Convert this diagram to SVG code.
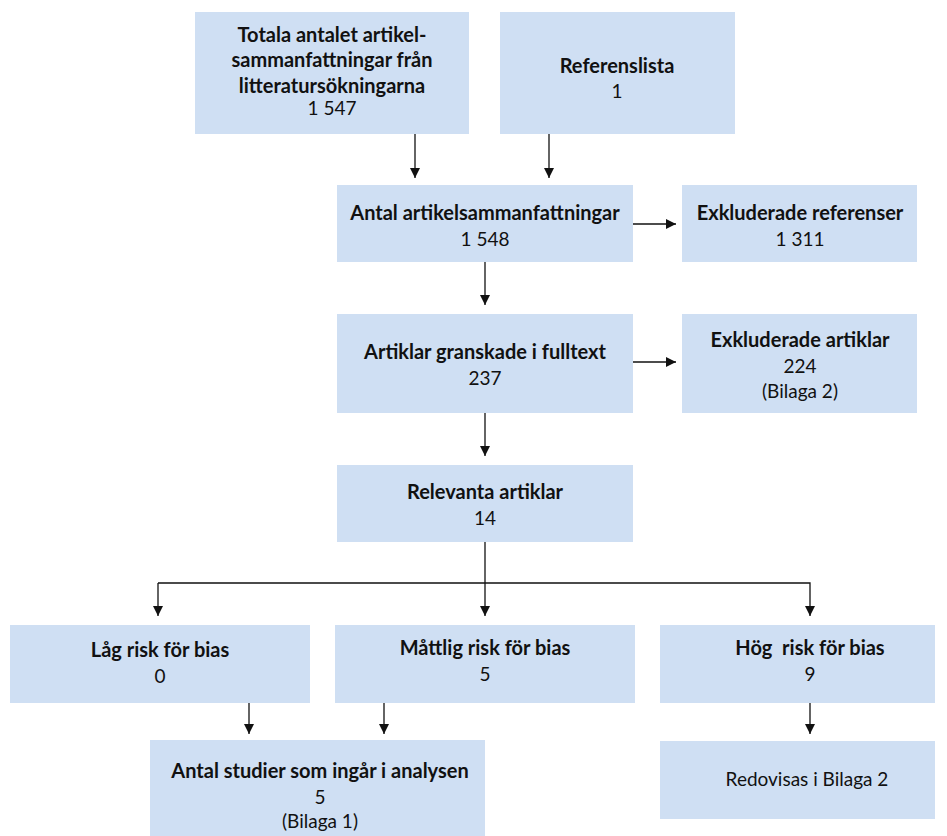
<svg xmlns="http://www.w3.org/2000/svg" width="947" height="836" viewBox="0 0 947 836">
<style>
.box{fill:#cfdff3}
.t{font-family:Lato,"Open Sans","Liberation Sans",sans-serif;font-size:20px;font-weight:bold;fill:#111;text-anchor:middle}
.n{font-family:Lato,"Open Sans","Liberation Sans",sans-serif;font-size:19px;font-weight:normal;fill:#111;text-anchor:middle}
.c{stroke:#111;stroke-width:1.3;fill:none}
</style>
<defs>
<marker id="ah" viewBox="0 0 10 10" refX="10" refY="5" markerWidth="10" markerHeight="10" markerUnits="userSpaceOnUse" orient="auto">
<path d="M0,0 L10,5 L0,10 Z" fill="#111"/>
</marker>
</defs>
<g id="connectors">
<path class="c" d="M415,134 V178" marker-end="url(#ah)"/>
<path class="c" d="M549,134 V178" marker-end="url(#ah)"/>
<path class="c" d="M633,224 H676" marker-end="url(#ah)"/>
<path class="c" d="M485,262 V305" marker-end="url(#ah)"/>
<path class="c" d="M633,362 H676" marker-end="url(#ah)"/>
<path class="c" d="M485,413 V456" marker-end="url(#ah)"/>
<path class="c" d="M485,542 V616" marker-end="url(#ah)"/>
<path class="c" d="M158,583 H810 V616" marker-end="url(#ah)"/>
<path class="c" d="M158,583 V616" marker-end="url(#ah)"/>
<path class="c" d="M249,703 V734" marker-end="url(#ah)"/>
<path class="c" d="M384,703 V734" marker-end="url(#ah)"/>
<path class="c" d="M810,703 V734" marker-end="url(#ah)"/>
</g>
<g id="total">
<rect class="box" x="195" y="12" width="274" height="122"/>
<text class="t" x="332" y="42">Totala antalet artikel-</text>
<text class="t" x="332" y="67">sammanfattningar från</text>
<text class="t" x="332" y="93">litteratursökningarna</text>
<text class="n" x="332" y="115">1 547</text>
</g>
<g id="referenslista">
<rect class="box" x="500" y="12" width="235" height="122"/>
<text class="t" x="617" y="73">Referenslista</text>
<text class="n" x="617" y="98">1</text>
</g>
<g id="antal">
<rect class="box" x="337" y="185" width="296" height="77"/>
<text class="t" x="485" y="220">Antal artikelsammanfattningar</text>
<text class="n" x="485" y="246">1 548</text>
</g>
<g id="exref">
<rect class="box" x="682" y="185" width="235" height="77"/>
<text class="t" x="800" y="220">Exkluderade referenser</text>
<text class="n" x="800" y="246">1 311</text>
</g>
<g id="granskade">
<rect class="box" x="337" y="314" width="296" height="99"/>
<text class="t" x="485" y="359">Artiklar granskade i fulltext</text>
<text class="n" x="485" y="385">237</text>
</g>
<g id="exart">
<rect class="box" x="682" y="314" width="235" height="99"/>
<text class="t" x="800" y="347">Exkluderade artiklar</text>
<text class="n" x="800" y="373">224</text>
<text class="n" x="800" y="398">(Bilaga 2)</text>
</g>
<g id="relevanta">
<rect class="box" x="337" y="465" width="296" height="77"/>
<text class="t" x="485" y="499">Relevanta artiklar</text>
<text class="n" x="485" y="525">14</text>
</g>
<g id="lag">
<rect class="box" x="10" y="625" width="300" height="78"/>
<text class="t" x="160" y="657">Låg risk för bias</text>
<text class="n" x="160" y="683">0</text>
</g>
<g id="mattlig">
<rect class="box" x="335" y="625" width="300" height="78"/>
<text class="t" x="485" y="655">Måttlig risk för bias</text>
<text class="n" x="485" y="681">5</text>
</g>
<g id="hog">
<rect class="box" x="660" y="625" width="275" height="78"/>
<text class="t" x="810" y="655" xml:space="preserve">Hög  risk för bias</text>
<text class="n" x="810" y="681">9</text>
</g>
<g id="analys">
<rect class="box" x="150" y="740" width="335" height="96"/>
<text class="t" x="320" y="778">Antal studier som ingår i analysen</text>
<text class="n" x="320" y="804">5</text>
<text class="n" x="320" y="828">(Bilaga 1)</text>
</g>
<g id="redovisas">
<rect class="box" x="660" y="741" width="275" height="78"/>
<text class="n" x="807" y="786">Redovisas i Bilaga 2</text>
</g>
</svg>
